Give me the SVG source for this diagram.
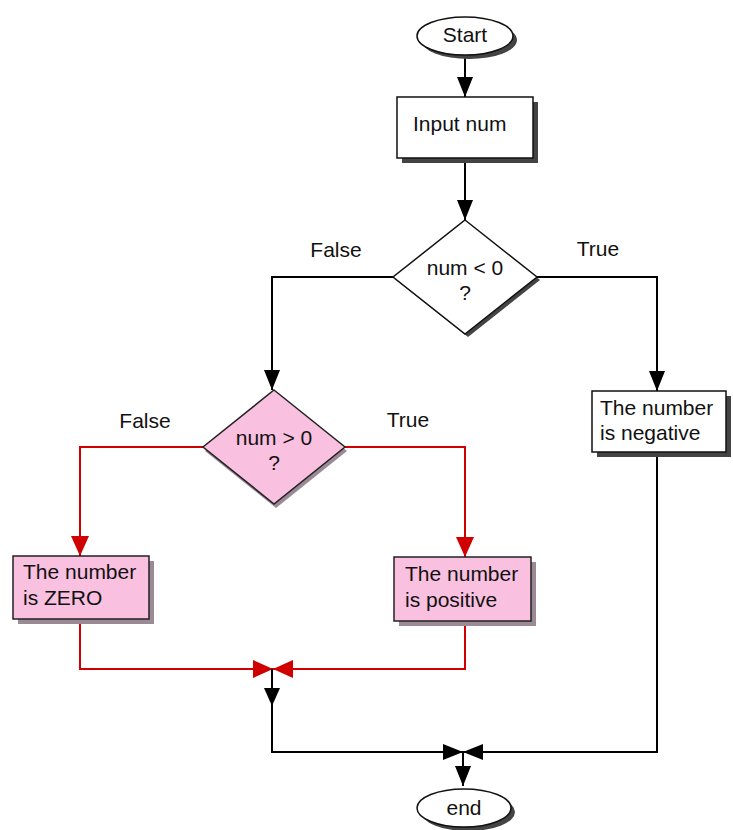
<svg xmlns="http://www.w3.org/2000/svg" width="733" height="830" viewBox="0 0 733 830">
<style>
text{font-family:"Liberation Sans",Arial,sans-serif;font-size:21px;fill:#111}
.c{text-anchor:middle}
.wb{fill:#fff;stroke:#111;stroke-width:1.5}
.pb{fill:#f9c0e0;stroke:#222;stroke-width:1.5}
.sd{fill:#444}
.sp{fill:#9a8a96}
.bl{fill:none;stroke:#000;stroke-width:2}
.rl{fill:none;stroke:#d00000;stroke-width:2}
</style>
<defs>
<marker id="ab" viewBox="0 0 20 16" refX="20" refY="8" markerWidth="20" markerHeight="16" markerUnits="userSpaceOnUse" orient="auto"><path d="M0,0L20,8L0,16z" fill="#000"/></marker>
<marker id="ar" viewBox="0 0 20 18" refX="20" refY="9" markerWidth="20" markerHeight="18" markerUnits="userSpaceOnUse" orient="auto"><path d="M0,0L20,9L0,18z" fill="#d00000"/></marker>
</defs>
<g id="connectors">
<line class="bl" x1="465" y1="55" x2="465" y2="97" marker-end="url(#ab)"/>
<line class="bl" x1="465" y1="160" x2="465" y2="220" marker-end="url(#ab)"/>
<polyline class="bl" points="395,277 272,277 272,390" marker-end="url(#ab)"/>
<polyline class="bl" points="537,277 657,277 657,391" marker-end="url(#ab)"/>
<polyline class="rl" points="203,447 80,447 80,556" marker-end="url(#ar)"/>
<polyline class="rl" points="345,447 465,447 465,557" marker-end="url(#ar)"/>
<polyline class="rl" points="80,621 80,669 273,669" marker-end="url(#ar)"/>
<polyline class="rl" points="465,623 465,669 273,669" marker-end="url(#ar)"/>
<polyline class="bl" points="272,669 272,752 463,752" marker-end="url(#ab)"/>
<polygon points="264,688 280,688 272,706" fill="#000"/>
<polyline class="bl" points="657,452 657,752 463,752" marker-end="url(#ab)"/>
<line class="bl" x1="463" y1="752" x2="463" y2="786" marker-end="url(#ab)"/>
<text class="c" x="336" y="257">False</text>
<text class="c" x="598" y="256">True</text>
<text class="c" x="145" y="428">False</text>
<text class="c" x="408" y="427">True</text>
</g>
<g id="start">
<ellipse class="sd" cx="469" cy="40" rx="48" ry="19"/>
<ellipse class="wb" cx="465" cy="36" rx="48" ry="19"/>
<text class="c" x="465" y="42">Start</text>
</g>
<g id="input">
<rect class="sd" x="402" y="102" width="136" height="61"/>
<rect class="wb" x="397" y="97" width="136" height="61"/>
<text x="413" y="131">Input num</text>
</g>
<g id="cond1">
<polygon class="sd" points="468,223 540,280 468,337 396,280"/>
<polygon class="wb" points="465,220 537,277 465,334 393,277"/>
<text class="c" x="465" y="275">num &lt; 0</text>
<text class="c" x="465" y="300">?</text>
</g>
<g id="cond2">
<polygon class="sp" points="276,394 347,451 276,508 205,451"/>
<polygon class="pb" points="274,390 345,447 274,504 203,447"/>
<text class="c" x="274" y="445">num &gt; 0</text>
<text class="c" x="274" y="470">?</text>
</g>
<g id="negative">
<rect class="sd" x="597" y="396" width="134" height="61"/>
<rect class="wb" x="592" y="391" width="134" height="61"/>
<text x="600" y="415">The number</text>
<text x="600" y="440">is negative</text>
</g>
<g id="zero">
<rect class="sp" x="18" y="561" width="136" height="63"/>
<rect class="pb" x="13" y="556" width="136" height="63"/>
<text x="23" y="579">The number</text>
<text x="23" y="605">is ZERO</text>
</g>
<g id="positive">
<rect class="sp" x="399" y="562" width="137" height="64"/>
<rect class="pb" x="394" y="557" width="137" height="64"/>
<text x="405" y="581">The number</text>
<text x="405" y="607">is positive</text>
</g>
<g id="end">
<ellipse class="sd" cx="468" cy="812" rx="47" ry="19"/>
<ellipse class="wb" cx="464" cy="808" rx="47" ry="19"/>
<text class="c" x="464" y="815">end</text>
</g>
</svg>
